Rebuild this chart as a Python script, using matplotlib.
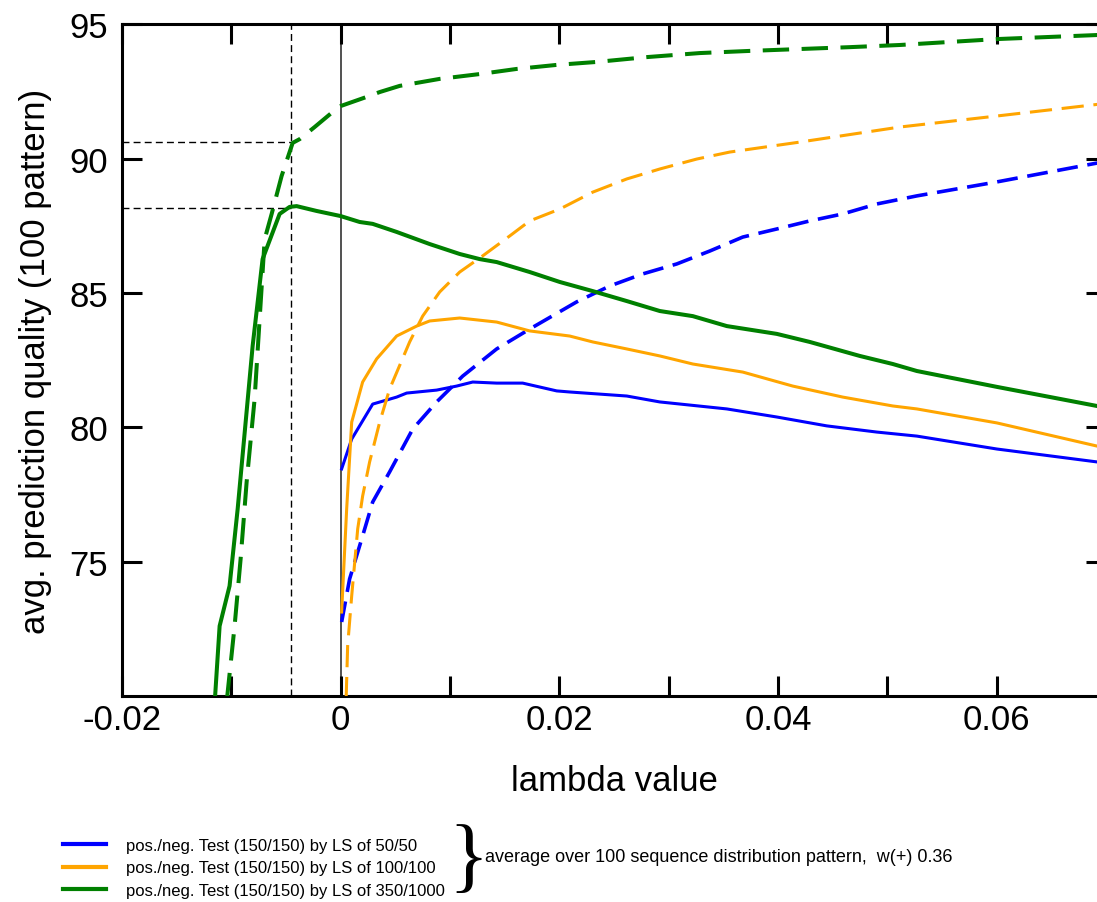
import matplotlib
matplotlib.use("Agg")
import matplotlib.pyplot as plt

plt.rcParams['font.family'] = ['Liberation Sans', 'DejaVu Sans']
plt.rcParams['lines.scale_dashes'] = False

# --- LS of 50/50 -----------------------------------------------------------
lam_b_test = [0.00009, 0.00101, 0.00293, 0.00512, 0.00604, 0.00878, 0.01061, 0.01208,
              0.01427, 0.01665, 0.01976, 0.02095, 0.02617, 0.02919, 0.03532, 0.03989,
              0.04446, 0.04904, 0.05270, 0.06002, 0.06917, 0.0700]
q_b_test = [78.46, 79.57, 80.87, 81.13, 81.28, 81.39, 81.54, 81.69,
            81.65, 81.65, 81.36, 81.32, 81.17, 80.95, 80.69, 80.39,
            80.06, 79.83, 79.68, 79.20, 78.72, 78.68]
lam_b_ls = [0.00009, 0.00082, 0.00201, 0.00293, 0.00448, 0.00659, 0.00878, 0.01116,
            0.01427, 0.01729, 0.02159, 0.02461, 0.02763, 0.03074, 0.03376, 0.03678,
            0.03989, 0.04291, 0.04593, 0.04904, 0.05270, 0.06002, 0.06917, 0.0700]
q_b_ls = [72.77, 74.37, 75.97, 77.23, 78.35, 79.94, 80.95, 81.91,
          82.92, 83.66, 84.67, 85.26, 85.71, 86.08, 86.56, 87.08,
          87.38, 87.68, 87.94, 88.31, 88.61, 89.13, 89.83, 89.87]

# --- LS of 100/100 ---------------------------------------------------------
lam_o_test = [0.00009, 0.00055, 0.00101, 0.00201, 0.00329, 0.00512, 0.00695, 0.00814,
              0.01089, 0.01427, 0.01729, 0.02095, 0.02306, 0.02617, 0.02919, 0.03221,
              0.03678, 0.04135, 0.04593, 0.05050, 0.05270, 0.06002, 0.06917, 0.0700]
q_o_test = [73.14, 76.97, 80.20, 81.69, 82.55, 83.40, 83.77, 83.96,
            84.07, 83.92, 83.59, 83.40, 83.18, 82.92, 82.66, 82.36,
            82.06, 81.54, 81.13, 80.80, 80.69, 80.17, 79.31, 79.26]
lam_o_ls = [0.00050, 0.00064, 0.00101, 0.00156, 0.00201, 0.00265, 0.00357, 0.00448,
            0.00631, 0.00750, 0.00906, 0.01089, 0.01299, 0.01546, 0.01729, 0.02004,
            0.02306, 0.02617, 0.02919, 0.03257, 0.03559, 0.04199, 0.05114, 0.06002,
            0.06917, 0.0700]
q_o_ls = [69.90, 71.88, 73.74, 76.23, 77.45, 78.72, 80.20, 81.43,
          83.18, 84.14, 85.04, 85.78, 86.38, 87.12, 87.68, 88.12,
          88.75, 89.24, 89.61, 89.98, 90.24, 90.61, 91.17, 91.58,
          92.01, 92.05]

# --- LS of 350/1000 --------------------------------------------------------
lam_g_test = [-0.01150, -0.01107, -0.01016, -0.00942, -0.00805, -0.00714, -0.00558,
              -0.00467, -0.00403, -0.00220, 0.0, 0.00174, 0.00293, 0.00512, 0.00814,
              0.01089, 0.01272, 0.01427, 0.01729, 0.02004, 0.02306, 0.02617, 0.02919,
              0.03221, 0.03532, 0.03989, 0.04291, 0.04748, 0.05050, 0.05270, 0.06002,
              0.06917, 0.0700]
q_g_test = [69.90, 72.62, 74.11, 76.97, 83.03, 86.26, 87.94,
            88.20, 88.23, 88.05, 87.86, 87.64, 87.57, 87.27, 86.82,
            86.45, 86.26, 86.15, 85.78, 85.41, 85.07, 84.70, 84.33,
            84.14, 83.77, 83.48, 83.18, 82.66, 82.36, 82.10, 81.51,
            80.80, 80.76]
lam_g_ls = [-0.01040, -0.00970, -0.00915, -0.00860, -0.00787, -0.00695, -0.00631,
            -0.00540, -0.00439, -0.00375, -0.00238, -0.00073, 0.0, 0.00238, 0.00357,
            0.00540, 0.00906, 0.01272, 0.01610, 0.01976, 0.02342, 0.02800, 0.03285,
            0.03742, 0.04199, 0.04657, 0.05114, 0.06002, 0.06917, 0.0700]
q_g_ls = [69.90, 72.62, 75.11, 77.97, 81.06, 87.00, 87.94,
          89.35, 90.58, 90.72, 91.17, 91.73, 91.95, 92.29, 92.47,
          92.70, 92.96, 93.14, 93.33, 93.48, 93.59, 93.77, 93.92,
          94.00, 94.07, 94.14, 94.22, 94.44, 94.59, 94.60]

# optimum marker for the 350/1000 case
lam_opt = -0.0045
q_opt_ls = 90.6
q_opt_test = 88.15

labels = ['pos./neg. Test (150/150) by LS of 50/50',
          'pos./neg. Test (150/150) by LS of 100/100',
          'pos./neg. Test (150/150) by LS of 350/1000']
note = 'average over 100 sequence distribution pattern,  w(+) 0.36'

BLUE, ORANGE, GREEN = '#0000ff', '#ffa500', '#008000'

fig = plt.figure(figsize=(10.97, 9.03), dpi=100)
ax = fig.add_axes([0.1112, 0.2276, 0.8970, 0.7447])
ax.set_xlim(-0.02, 0.07)
ax.set_ylim(70, 95)

# reference lines
ax.axvline(0, color='#222222', lw=1.1, zorder=1)
ax.axvline(lam_opt, color='black', lw=1.0, dashes=(5, 3), zorder=1)
ax.plot([-0.02, lam_opt], [q_opt_ls, q_opt_ls], color='black', lw=1.0, dashes=(5, 3), zorder=1)
ax.plot([-0.02, lam_opt], [q_opt_test, q_opt_test], color='black', lw=1.0, dashes=(5, 3), zorder=1)

# curves
hb, = ax.plot(lam_b_test, q_b_test, color=BLUE, lw=2.2, zorder=3)
ax.plot(lam_b_ls, q_b_ls, color=BLUE, lw=2.6, dashes=(15, 7), zorder=3)
ho, = ax.plot(lam_o_test, q_o_test, color=ORANGE, lw=2.2, zorder=3)
ax.plot(lam_o_ls, q_o_ls, color=ORANGE, lw=2.2, dashes=(16, 7), zorder=3)
hg, = ax.plot(lam_g_test, q_g_test, color=GREEN, lw=2.9, zorder=3)
ax.plot(lam_g_ls, q_g_ls, color=GREEN, lw=2.9, dashes=(19, 9), zorder=3)

# axes styling
for sp in ax.spines.values():
    sp.set_linewidth(2.2)
ax.set_xticks([-0.02, 0, 0.02, 0.04, 0.06], labels=['-0.02', '0', '0.02', '0.04', '0.06'])
ax.set_xticks([-0.01, 0.01, 0.03, 0.05], minor=True)
ax.set_yticks([75, 80, 85, 90, 95], labels=['75', '80', '85', '90', '95'])
ax.tick_params(which='both', direction='in', length=14.5, width=2.2,
               top=True, right=True, labelsize=25)
ax.tick_params(axis='x', which='both', pad=5)
ax.tick_params(axis='y', which='both', pad=10)

ax.set_xlabel('lambda value', fontsize=25, labelpad=20)
ax.set_ylabel('avg. prediction quality (100 pattern)', fontsize=25)
ax.yaxis.set_label_coords(-0.0711, 0.5)

# legend block below the axes
leg = fig.legend([hb, ho, hg], labels, loc='upper left',
                 bbox_to_anchor=(63 / 1097, 1 - 839 / 903), bbox_transform=fig.transFigure,
                 frameon=False, fontsize=12, handlelength=2.6, handletextpad=1.2,
                 labelspacing=0.44, borderpad=0, borderaxespad=0)
for h in leg.legend_handles:
    h.set_linewidth(3.0)

fig.text(468 / 1097, 1 - 882 / 903, '}', family='Liberation Serif', fontsize=60,
         ha='center', va='baseline')
fig.text(485 / 1097, 1 - 858 / 903, note, fontsize=13, ha='left', va='center')

fig.savefig('out.png', dpi=100)
